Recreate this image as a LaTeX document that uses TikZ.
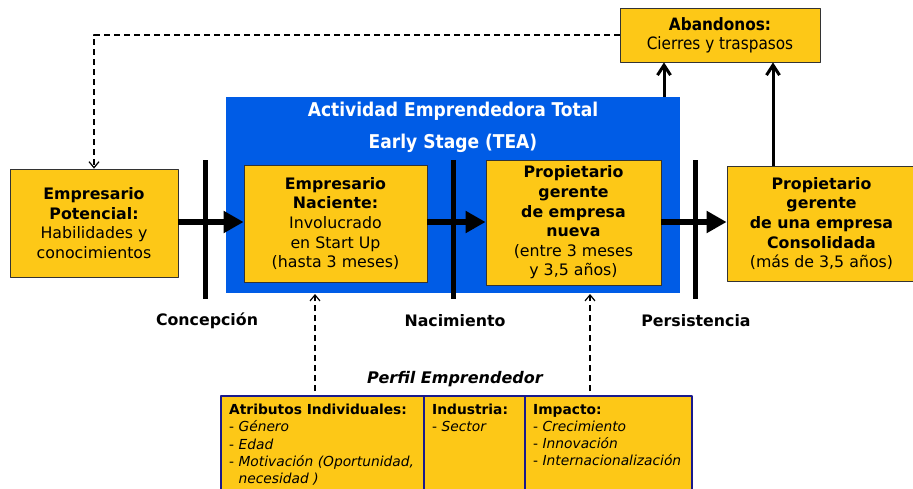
\documentclass[tikz,border=0pt]{standalone}
\usepackage{fontspec}
\setmainfont{DejaVu Sans}
\newfontfamily\condfont{DejaVu Sans Condensed}
\usetikzlibrary{arrows.meta}
\definecolor{boxyellow}{HTML}{FDC817}
\definecolor{teablue}{HTML}{005CE6}
\definecolor{tableblue}{HTML}{1A1A8C}
\begin{document}
\begin{tikzpicture}[x=1pt,y=-1pt, line join=round,
    stagebox/.style={draw=black!80, line width=0.8pt, fill=boxyellow, align=center,
      inner sep=0pt, font=\fontsize{15.8}{19.6}\selectfont},
    bar/.style={line width=5pt},
    flow/.style={line width=5.5pt, -{Triangle[length=20pt,width=21pt]}},
    exitarrow/.style={line width=3pt, -{Straight Barb[length=10pt,width=13pt]}},
    dasharrow/.style={dash pattern=on 6pt off 4pt, line width=1.2pt, -{Straight Barb[length=6pt,width=10pt]}},
    stagelabel/.style={font=\bfseries\fontsize{15.8}{18}\selectfont},
    cell/.style={anchor=north west, align=left, inner sep=0pt,
      font=\fontsize{13.8}{17.2}\selectfont}]
  \useasboundingbox (0,0) rectangle (913,488);
  % TEA frame
  \fill[teablue] (226,97) rectangle (680,293);
  \node[text=white, font=\condfont\bfseries\fontsize{19}{22}\selectfont] (teatitle) at (453,111) {Actividad Emprendedora Total};
  \node[text=white, font=\condfont\bfseries\fontsize{19}{22}\selectfont] (teasub) at (453,143) {Early Stage (TEA)};
  % stage boxes
  \node[stagebox, minimum width=168pt, minimum height=108pt] (pot) at (94,223)
    {\textbf{Empresario}\\ \textbf{Potencial:}\\ Habilidades y\\ conocimientos};
  \node[stagebox, minimum width=183pt, minimum height=117pt] (nac) at (335.5,223.5)
    {\textbf{Empresario}\\ \textbf{Naciente:}\\ Involucrado\\ en Start Up\\ (hasta 3 meses)};
  \node[stagebox, minimum width=175pt, minimum height=125pt] (nueva) at (573.5,222.5)
    {\textbf{Propietario}\\ \textbf{gerente}\\ \textbf{de empresa}\\ \textbf{nueva}\\ (entre 3 meses\\ y 3,5 años)};
  \node[stagebox, minimum width=189pt, minimum height=115pt] (cons) at (821.5,223.5)
    {\textbf{Propietario}\\ \textbf{gerente}\\ \textbf{de una empresa}\\ \textbf{Consolidada}\\ (más de 3,5 años)};
  \node[stagebox, minimum width=200pt, minimum height=54pt, font=\condfont\fontsize{17}{19}\selectfont] (aband) at (720,35)
    {\textbf{Abandonos:}\\ Cierres y traspasos};
  % thresholds
  \foreach \x in {205,453,695}
    \draw[bar] (\x,160) -- (\x,299);
  \node[stagelabel] (concep) at (207,321) {Concepción};
  \node[stagelabel] (nacim) at (455,321) {Nacimiento};
  \node[stagelabel] (persis) at (696,321) {Persistencia};
  % flows
  \draw[flow] (pot.east |- 0,222) -- (nac.west |- 0,222);
  \draw[flow] (nac.east |- 0,222) -- (nueva.west |- 0,222);
  \draw[flow] (nueva.east |- 0,222) -- (cons.west |- 0,222);
  \coordinate (teatop) at (664,97);
  \coordinate (constop) at (773,166);
  \draw[exitarrow] (teatop) -- (teatop |- aband.south);
  \draw[exitarrow] (constop) -- (constop |- aband.south);
  \draw[dasharrow] (aband.west) -| (pot.north);
  % perfil emprendedor
  \node[font=\bfseries\itshape\fontsize{16}{18}\selectfont] (perfil) at (455,379) {Perfil Emprendedor};
  \fill[boxyellow] (221,396) rectangle (692,500);
  \draw[tableblue, line width=1.8pt] (221,500) |- (692,396) -- (692,500)
    (424,396) -- (424,500) (525,396) -- (525,500);
  \node[cell] (atrib) at (229,404) {\textbf{Atributos Individuales:}\\ - \textit{Género}\\ - \textit{Edad}\\
    - \textit{Motivación (Oportunidad,}\\ \phantom{- }\textit{necesidad )}};
  \node[cell] (indus) at (432,404) {\textbf{Industria:}\\ - \textit{Sector}};
  \node[cell] (impac) at (533,404) {\textbf{Impacto:}\\ - \textit{Crecimiento}\\ - \textit{Innovación}\\ - \textit{Internacionalización}};
  \coordinate (perfnac) at (315,391);
  \coordinate (perfnueva) at (590,391);
  \coordinate (teanac) at (315,294);
  \coordinate (teanueva) at (590,294);
  \draw[dasharrow] (perfnac) -- (teanac);
  \draw[dasharrow] (perfnueva) -- (teanueva);
\end{tikzpicture}
\end{document}
